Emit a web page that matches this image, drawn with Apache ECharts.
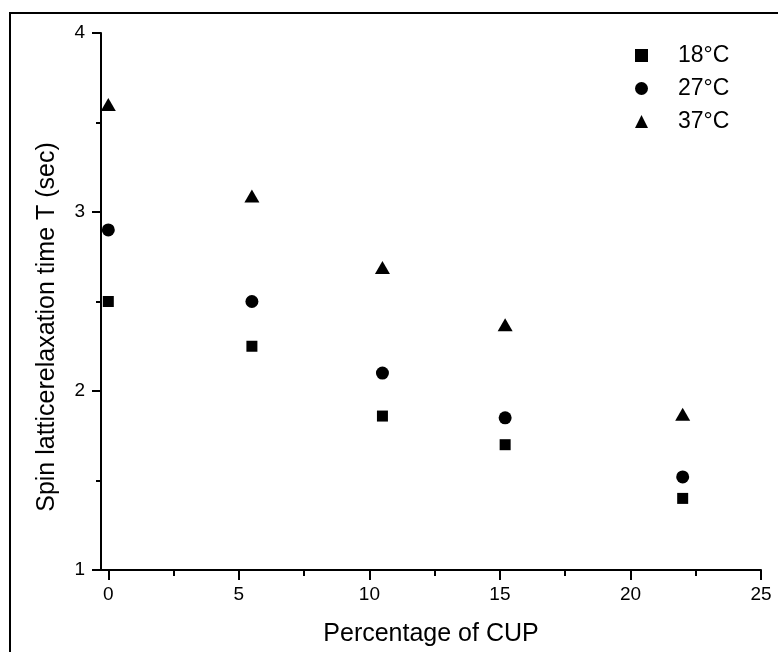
<!DOCTYPE html>
<html>
<head>
<meta charset="utf-8">
<script src="https://cdn.jsdelivr.net/npm/echarts@6/dist/echarts.min.js"></script>
<style>
  html, body { margin: 0; padding: 0; background: #ffffff; }
  #chart { width: 778px; height: 652px; }
</style>
</head>
<body>
<div id="chart"></div>
<script>
// CUP content (%) and spin-lattice relaxation time T1 (s) at three temperatures
const cupPercent = [0, 5.5, 10.5, 15.2, 22];
const t18 = [2.5, 2.25, 1.86, 1.70, 1.40];
const t27 = [2.9, 2.5, 2.1, 1.85, 1.52];
const t37 = [3.6, 3.09, 2.69, 2.37, 1.87];

const seriesNames = ['18\u00B0C', '27\u00B0C', '37\u00B0C'];
const xMajorTicks = [0, 5, 10, 15, 20, 25];
const xMinorTicks = [2.5, 7.5, 12.5, 17.5, 22.5];
const yTicks = [1, 2, 3, 4];

const xTitle = 'Percentage of CUP';
const yTitle = 'Spin latticerelaxation time T (sec)';

const FONT = '"Liberation Sans", Arial, Helvetica, sans-serif';
const INK = '#000000';

function pairs(ys) {
  return cupPercent.map((x, i) => [x, ys[i]]);
}

const chart = echarts.init(document.getElementById('chart'), null, { renderer: 'canvas' });

const axisLine = { show: true, onZero: false, lineStyle: { color: INK, width: 2 } };
const markStyle = { color: '#000000', opacity: 1 };

chart.setOption({
  animation: false,
  backgroundColor: '#ffffff',
  textStyle: { fontFamily: FONT, color: INK },
  grid: { left: 101, right: 17, top: 33, bottom: 81, containLabel: false },
  xAxis: [
    {
      type: 'value',
      min: -0.28,
      max: xMajorTicks[xMajorTicks.length - 1],
      position: 'bottom',
      axisLine: axisLine,
      axisTick: { show: true, length: 10, customValues: xMajorTicks, lineStyle: { color: INK, width: 2 } },
      axisLabel: { show: true, customValues: xMajorTicks, margin: 15, fontSize: 19, fontFamily: FONT, color: INK },
      splitLine: { show: false },
      name: xTitle,
      nameLocation: 'middle',
      nameGap: 52,
      nameTextStyle: { fontSize: 25, fontFamily: FONT, color: INK }
    },
    {
      // minor ticks halfway between the labelled ones
      type: 'value',
      min: -0.28,
      max: xMajorTicks[xMajorTicks.length - 1],
      position: 'bottom',
      axisLine: { show: false },
      axisTick: { show: true, length: 6, customValues: xMinorTicks, lineStyle: { color: INK, width: 2 } },
      axisLabel: { show: false },
      splitLine: { show: false }
    }
  ],
  yAxis: {
    type: 'value',
    min: yTicks[0],
    max: yTicks[yTicks.length - 1],
    interval: 1,
    axisLine: axisLine,
    axisTick: { show: true, length: 9, lineStyle: { color: INK, width: 2 } },
    minorTick: { show: true, splitNumber: 2, length: 5, lineStyle: { color: INK, width: 2 } },
    axisLabel: { margin: 16, fontSize: 19, fontFamily: FONT, color: INK },
    splitLine: { show: false },
    minorSplitLine: { show: false }
  },
  legend: {
    orient: 'vertical',
    left: 630,
    top: 39,
    itemWidth: 13,
    itemHeight: 13,
    itemGap: 10,
    data: seriesNames,
    itemStyle: { opacity: 1 },
    textStyle: { fontSize: 23, fontFamily: FONT, color: INK, lineHeight: 20, padding: [0, 0, 0, 25] }
  },
  series: [
    {
      name: seriesNames[0], type: 'scatter', symbol: 'rect', symbolSize: 11,
      itemStyle: markStyle, data: pairs(t18)
    },
    {
      name: seriesNames[1], type: 'scatter', symbol: 'circle', symbolSize: 13,
      itemStyle: markStyle, data: pairs(t27)
    },
    {
      name: seriesNames[2], type: 'scatter', symbol: 'triangle', symbolSize: [15, 13],
      itemStyle: markStyle, data: pairs(t37)
    }
  ],
  graphic: [
    {
      // frame around the figure
      type: 'rect', silent: true, z: 100,
      shape: { x: 10, y: 13, width: 900, height: 800 },
      style: { fill: 'none', stroke: '#000000', lineWidth: 2 }
    },
    {
      type: 'text', silent: true,
      x: 47, y: 327, rotation: Math.PI / 2,
      style: {
        text: yTitle, align: 'center', verticalAlign: 'middle',
        fontSize: 25, fontFamily: FONT, fill: INK
      }
    }
  ]
});
</script>
</body>
</html>
